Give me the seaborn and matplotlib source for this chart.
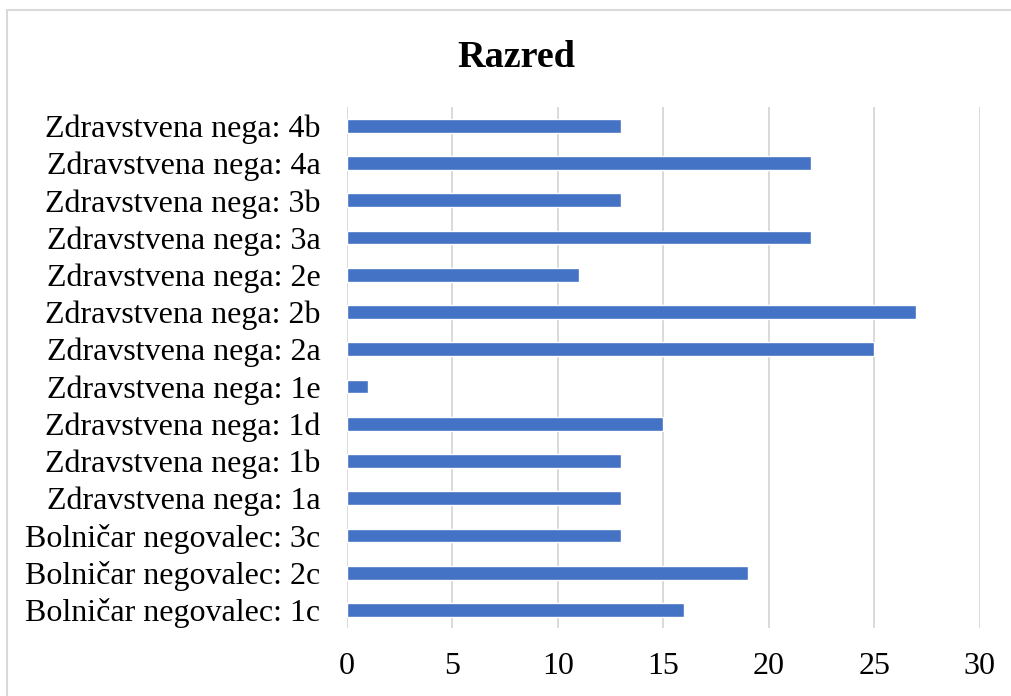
import matplotlib
matplotlib.use("Agg")
import matplotlib.pyplot as plt
import seaborn as sns
import pandas as pd
from matplotlib.lines import Line2D

categories = [
    "Zdravstvena nega: 4b", "Zdravstvena nega: 4a", "Zdravstvena nega: 3b",
    "Zdravstvena nega: 3a", "Zdravstvena nega: 2e", "Zdravstvena nega: 2b",
    "Zdravstvena nega: 2a", "Zdravstvena nega: 1e", "Zdravstvena nega: 1d",
    "Zdravstvena nega: 1b", "Zdravstvena nega: 1a", "Bolničar negovalec: 3c",
    "Bolničar negovalec: 2c", "Bolničar negovalec: 1c",
]
values = [13, 22, 13, 22, 11, 27, 25, 1, 15, 13, 13, 13, 19, 16]
xticks = [0, 5, 10, 15, 20, 25, 30]
title = "Razred"

sns.set_theme(style="white")
plt.rcParams["font.family"] = ["Liberation Serif", "DejaVu Serif"]
plt.rcParams["text.color"] = "black"
plt.rcParams["xtick.color"] = "black"
plt.rcParams["ytick.color"] = "black"

df = pd.DataFrame({"cat": categories, "val": values})

fig = plt.figure(figsize=(10.11, 6.96), dpi=100)
ax = fig.add_axes([0.343, 0.097, 0.626, 0.749])
sns.barplot(data=df, y="cat", x="val", orient="h", color="#4472C4",
            width=0.37, saturation=1, ax=ax, zorder=3)
ax.set_xlim(0, 30)
ax.set_xticks(xticks)
ax.set_xticklabels([str(t) for t in xticks])
ax.tick_params(axis="x", length=0, pad=17, labelsize=23, labelcolor="black")
ax.tick_params(axis="y", length=0, pad=19, labelsize=23, labelcolor="black")
ax.set_xlabel("")
ax.set_ylabel("")
ax.grid(axis="x", color="#D9D9D9", linewidth=1.4, zorder=0)
ax.grid(axis="y", visible=False)
for s in ax.spines.values():
    s.set_visible(False)
ax.set_ylim(len(categories) - 0.5, -0.5)

fig.text(0.511, 0.918, title, ha="center", va="center", fontsize=27.5,
         fontweight="bold", color="black")

# outer border (chart area frame)
fig.add_artist(Line2D([0.007, 0.007], [0.0, 0.986], color="#D9D9D9", lw=1.5))
fig.add_artist(Line2D([0.007, 1.0], [0.986, 0.986], color="#D9D9D9", lw=1.5))

fig.savefig("out.png", dpi=100)
